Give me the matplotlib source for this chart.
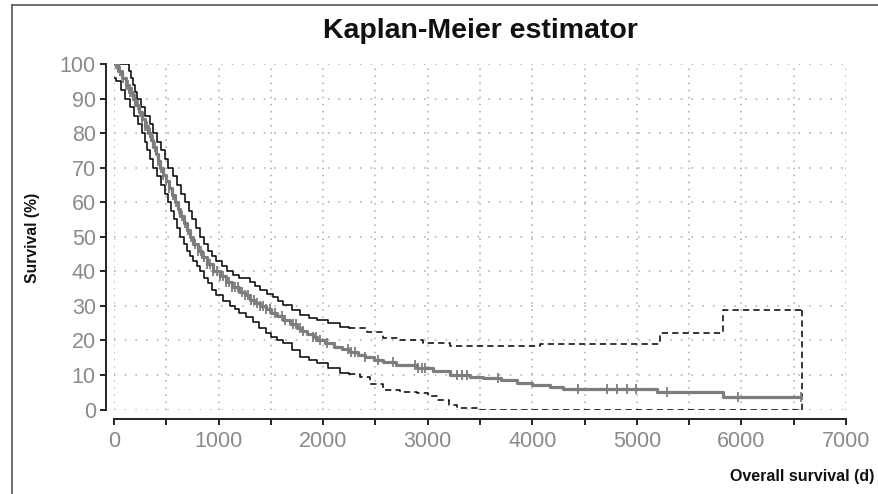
import numpy as np
import matplotlib
matplotlib.use("Agg")
import matplotlib.pyplot as plt
from matplotlib.lines import Line2D
from matplotlib.ticker import MultipleLocator, FuncFormatter

plt.rcParams['lines.scale_dashes'] = False

# === Kaplan-Meier estimate ===
km_t = [0, 40, 75, 110, 140, 180, 205, 235, 265, 295, 325, 350, 375, 400, 420,
        440, 470, 500, 525, 555, 585, 610, 635, 665, 695, 725, 760, 800, 840,
        890, 950, 1010, 1070, 1130, 1200, 1250, 1300, 1350, 1395, 1450, 1500,
        1560, 1617, 1680, 1750, 1800, 1850, 1900, 1940, 2020, 2100, 2180, 2257,
        2330, 2400, 2490, 2574, 2700, 2896, 3050, 3213, 3400, 3530, 3700, 3850,
        4000, 4170, 4294, 5193, 5825, 6567]
km_s = [100, 98, 96, 94, 92, 90, 88, 86, 84, 82, 80, 78, 76, 74, 72,
        70, 68, 66, 64, 62, 60, 58, 56, 54, 52, 50, 48, 46, 44,
        42, 40, 38.5, 37, 35.5, 34, 33, 31.7, 30.8, 30, 29, 28,
        27, 25.9, 24.8, 23.5, 22.6, 21.8, 20.9, 20.1, 19.2, 18.2, 17.4, 16.6,
        15.9, 15.2, 14.4, 13.7, 12.8, 12.0, 11.0, 10.0, 9.4, 9.1, 8.4, 7.7,
        7.0, 6.4, 5.9, 5.0, 3.7, 3.7]

# censored observations (days)
censor_t = [15, 35, 60, 85, 110, 130, 150, 175, 200, 225, 250, 270, 300, 320,
            345, 370, 395, 420, 450, 470, 500, 530, 560, 590, 620, 650, 680,
            710, 740, 770, 800, 830, 860, 890, 920, 950, 985, 1010, 1040, 1070,
            1100, 1130, 1160, 1190, 1220, 1250, 1280, 1310, 1340, 1370, 1400,
            1425, 1455, 1490, 1540, 1605, 1635, 1710, 1740, 1780, 1805, 1900,
            1935, 1970, 2040, 2240, 2270, 2300, 2400, 2525, 2670, 2880, 2910,
            2945, 2975, 3280, 3330, 3375, 3672, 4437, 4714, 4810, 4906, 4992,
            5288, 5967, 6567]

# 95% confidence band
up_t = [0, 140, 165, 185, 200, 218, 260, 300, 340, 375, 410, 450, 485, 520,
        560, 600, 640, 680, 715, 750, 785, 822, 860, 900, 940, 980, 1030, 1080,
        1140, 1200, 1300, 1350, 1400, 1460, 1523, 1570, 1617, 1700, 1779, 1860,
        1940, 2050, 2160, 2250, 2420, 2575, 2735, 2955, 3213, 4075, 5221, 5826,
        6580]
up_s = [100, 98, 96, 94, 92, 90, 87.5, 85, 82.5, 80, 77.5, 75, 72.5, 70,
        67.5, 65, 62.5, 60, 57.5, 55, 52.5, 50, 48, 46, 44.5, 43, 41.5, 40,
        39, 38, 37, 35.8, 34.5, 33.5, 32.6, 31.4, 30.2, 28.7, 27.3, 26.5,
        25.9, 25.0, 24.0, 23.5, 22.5, 20.7, 20.1, 19.2, 18.5, 18.9, 22.0, 28.8,
        28.8]
lo_t = [0, 20, 65, 105, 150, 190, 230, 265, 292, 320, 348, 375, 412, 450,
        485, 520, 548, 575, 603, 630, 665, 700, 730, 760, 790, 822, 860, 900,
        940, 980, 1045, 1110, 1155, 1200, 1265, 1330, 1390, 1450, 1500, 1555,
        1617, 1700, 1779, 1860, 1940, 2050, 2160, 2250, 2352, 2450, 2575, 2735,
        2896, 3000, 3090, 3200, 3280, 3500, 6580]
lo_s = [96, 95, 92.5, 90, 87.5, 85, 82.5, 80, 77.5, 75, 72.5, 70, 67.5, 65,
        62.5, 60, 57.5, 55, 52.5, 50, 48, 46, 44.5, 43, 41.5, 40, 38, 36.5,
        34.7, 33, 31.5, 30, 29, 28, 26.7, 25.4, 23.7, 22, 21, 20,
        19.2, 17.2, 15.3, 14.3, 13.4, 12, 10.5, 10.2, 9.5, 7.5, 5.6, 5.2,
        4.7, 3.8, 2.7, 1.2, 0.3, 0, 0]
dash_from = 2250  # confidence band drawn dashed after this day

x_ticks = np.arange(0, 7001, 500)
y_ticks = np.arange(0, 101, 10)

W, H = 879, 494
fig = plt.figure(figsize=(W / 100, H / 100), dpi=100)
ax = fig.add_axes([114 / W, 1 - 409.5 / H, 732 / W, 345.5 / H])

grid_c = '#a8a8a8'
for xv in x_ticks:
    ax.plot([xv, xv], [0, 100], color=grid_c, lw=1.1, ls=(0, (1.1, 4)), zorder=0)
for yv in y_ticks:
    ax.plot([0, 7000], [yv, yv], color=grid_c, lw=1.1, ls=(0, (1.1, 6.6)), zorder=0)


def split(t, s, cut):
    t = np.asarray(t, float)
    s = np.asarray(s, float)
    k = np.searchsorted(t, cut)
    return (t[:k + 1], s[:k + 1]), (t[k:], s[k:])


for t, s in [(up_t, up_s), (lo_t, lo_s)]:
    (t1, s1), (t2, s2) = split(t, s, dash_from)
    ax.plot(t1, s1, drawstyle='steps-post', color='black', lw=1.1, zorder=3)
    ax.plot(t2, s2, drawstyle='steps-post', color='black', lw=1.1,
            ls=(0, (4.5, 3)), zorder=3)
# closing vertical of the band at the last time
ax.plot([up_t[-1], up_t[-1]], [lo_s[-1], up_s[-1]], color='black', lw=1.1,
        ls=(0, (4.5, 3)), zorder=3)

km_c = '#7d7d7d'
ax.plot(km_t, km_s, drawstyle='steps-post', color=km_c, lw=2.3, zorder=4)
idx = np.searchsorted(km_t, censor_t, side='right') - 1
censor_s = np.asarray(km_s)[idx]
ax.plot(censor_t, censor_s, ls='none', marker='|', ms=7.5, mew=1.3,
        color=km_c, zorder=4)

ax.set_xlim(0, 7000)
ax.set_ylim(0, 100)
for side in ['top', 'right']:
    ax.spines[side].set_visible(False)
ax.spines['left'].set_position(('outward', 5.8))
ax.spines['bottom'].set_position(('outward', 6.5))
ax.spines['left'].set_bounds(0, 100)
ax.spines['bottom'].set_bounds(0, 7000)
for side in ['left', 'bottom']:
    ax.spines[side].set_linewidth(1.4)
    ax.spines[side].set_color('#222222')

ax.xaxis.set_major_locator(MultipleLocator(500))
ax.yaxis.set_major_locator(MultipleLocator(10))
ax.xaxis.set_major_formatter(FuncFormatter(
    lambda v, p: f"{int(v)}" if int(v) % 1000 == 0 else ""))
ax.tick_params(axis='both', direction='out', length=4.3, width=1.4,
               color='#222222', labelcolor='#8a8a8a', labelsize=15.5)
ax.tick_params(axis='y', pad=3)
ax.tick_params(axis='x', pad=5)
for lab in ax.get_xticklabels() + ax.get_yticklabels():
    lab.set_family('Liberation Sans')

fig.text(480 / W, 1 - 31 / H, "Kaplan-Meier estimator", ha='center', va='center',
         fontsize=20.5, fontweight='bold', family='Liberation Sans', color='#111111')
fig.text(33 / W, 1 - 238 / H, "Survival (%)", rotation=90, ha='center', va='center',
         fontsize=11.3, fontweight='bold', family='Liberation Sans', color='#111111')
fig.text(874 / W, 1 - 476 / H, "Overall survival (d)", ha='right', va='center',
         fontsize=11.5, fontweight='bold', family='Liberation Sans', color='#111111')

# outer frame (left and top edges)
fig.add_artist(Line2D([12 / W, 12 / W], [0, 1 - 5 / H], color='#555555', lw=1.2))
fig.add_artist(Line2D([12 / W, 1], [1 - 5 / H, 1 - 5 / H], color='#555555', lw=1.2))

fig.savefig("out.png", dpi=100)
